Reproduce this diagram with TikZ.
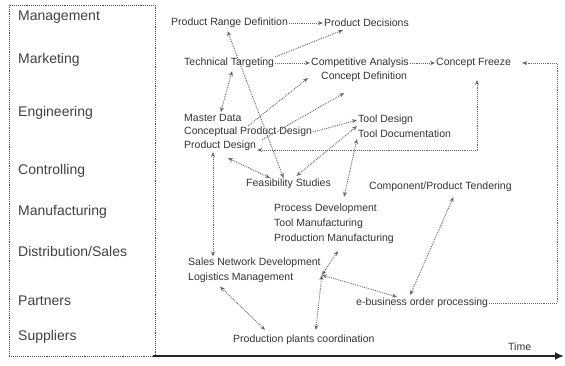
\documentclass[tikz,border=0pt]{standalone}
\usepackage{fontspec}
\setmainfont{Liberation Sans}
\usetikzlibrary{calc,arrows.meta}
\begin{document}
\begin{tikzpicture}[x=1pt,y=-1pt,
  lane/.style={anchor=west,font=\fontsize{14}{16}\selectfont,text=black!75,inner sep=0pt},
  item/.style={anchor=west,font=\fontsize{10.5}{15}\selectfont,text=black!80,inner sep=1pt,align=left},
  tip/.style={-{Stealth[length=5pt,width=4pt]}},
  link/.style={draw=black!60,densely dotted,line width=0.9pt,tip},
  both/.style={draw=black!60,densely dotted,line width=0.9pt,{Stealth[length=5pt,width=4pt]}-{Stealth[length=5pt,width=4pt]}}]
\useasboundingbox (0,0) rectangle (565,366);

% lane box and time axis
\draw[black!70,densely dotted,line width=0.9pt] (9,5) rectangle (155,356);
\coordinate (ax0) at (153,356);
\coordinate (ax1) at (564,356);
\draw[black!85,line width=2.8pt,-{Latex[length=9pt,width=8pt]}] (ax0) -- (ax1);
\node[item] (time) at (507,347) {Time};

% lanes
\node[lane] (l1) at (18,17) {Management};
\node[lane] (l2) at (18,60) {Marketing};
\node[lane] (l3) at (18,113) {Engineering};
\node[lane] (l4) at (18,171) {Controlling};
\node[lane] (l5) at (18,212) {Manufacturing};
\node[lane] (l6) at (18,251) {Distribution/Sales};
\node[lane] (l7) at (18,301) {Partners};
\node[lane] (l8) at (18,337) {Suppliers};

% items
\node[item] (prd) at (170,23) {Product Range Definition};
\node[item] (pd) at (323,23) {Product Decisions};
\node[item] (tt) at (183,63) {Technical Targeting};
\node[item] (ca) at (310,63) {Competitive Analysis};
\node[item] (cd) at (320,77) {Concept Definition};
\node[item] (cf) at (435,63) {Concept Freeze};
\node[item] (md) at (183,118) {Master Data};
\node[item] (cpd) at (183,132) {Conceptual Product Design};
\node[item] (pdes) at (183,146) {Product Design};
\node[item] (tds) at (357,120) {Tool Design};
\node[item] (tdoc) at (357,134) {Tool Documentation};
\node[item] (fs) at (245,184) {Feasibility Studies};
\node[item] (cpt) at (368,187) {Component/Product Tendering};
\node[item] (mf) at (273,224) {Process Development\\Tool Manufacturing\\Production Manufacturing};
\node[item] (sl) at (187,270) {Sales Network Development\\Logistics Management};
\node[item] (eb) at (355,303) {e-business order processing};
\node[item] (ppc) at (232,340) {Production plants coordination};

\coordinate (rx) at (557,0);
\coordinate (vx) at (213,0);
\coordinate (cfx) at (477,0);

% connectors
\draw[link] (prd.east) -- (pd.west);
\draw[link] (tt.north east) -- ($(pd.south west)+(20,2)$);
\draw[both] ($(prd.south)+(-2,2)$) -- ($(fs.north)+(-5,0)$);
\draw[link] (tt.east) -- (ca.west);
\draw[link] (ca.east) -- (cf.west);
\draw[link] (eb.east) -- (eb.east -| rx) |- ($(cf.east)+(10,0)$);
\draw[both] ($(pdes.east)+(0,4)$) -| ($(cfx)+(0,80)$);
\draw[both] ($(tt.south)+(3,2)$) -- ($(md.north)+(8,-1)$);
\draw[link] ($(cpd.north)+(0,0)$) -- ($(cd.west)+(-12,1)$);
\draw[link] ($(pdes.north east)+(5,0)$) -- ($(cd.south)+(-20,10)$);
\draw[link] (cpd.east) -- (tds.west);
\draw[both] ($(tds.south west)+(0,0)$) -- ($(fs.north)+(8,-2)$);
\draw[both] (tdoc.south west) -- ($(mf.north)+(10,-6)$);
\draw[both] ($(pdes.south)+(8,6)$) -- ($(fs.north west)+(25,0)$);
\draw[both] (pdes.south -| vx) -- (sl.north -| vx);
\draw[both] ($(mf.south)+(4,6)$) -- ($(sl.east)+(0,5)$);
\draw[both] ($(eb.north west)+(42,0)$) -- ($(sl.east)+(0,5)$);
\draw[both] ($(ppc.north)+(12,-4)$) -- ($(sl.east)+(0,5)$);
\draw[both] ($(sl.south west)+(33,3)$) -- ($(ppc.north west)+(33,-4)$);
\draw[both] ($(eb.north)+(-12,-2)$) -- ($(cpt.south)+(13,4)$);
\end{tikzpicture}
\end{document}
